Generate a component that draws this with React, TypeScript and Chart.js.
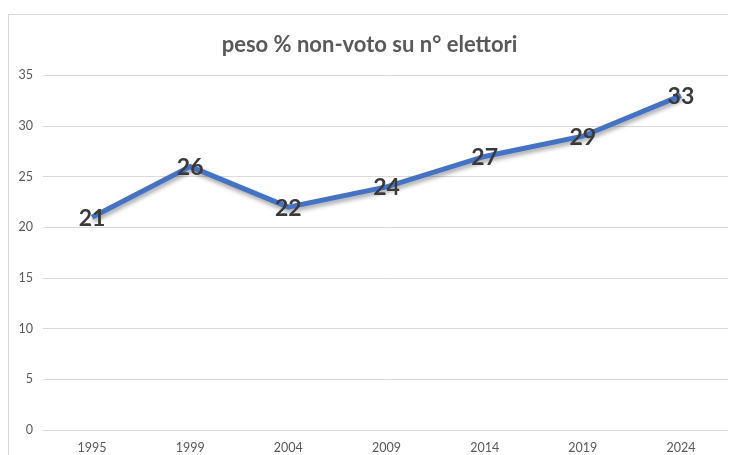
import React, { useEffect, useRef } from "react";
import { Chart, registerables } from "chart.js";

Chart.register(...registerables);

const categories = ["1995", "1999", "2004", "2009", "2014", "2019", "2024"];
const values = [21, 26, 22, 24, 27, 29, 33];
const titleText = "peso % non-voto su n° elettori";

const shadowPlugin = {
  id: "lineShadow",
  beforeDatasetDraw(chart: any) {
    const ctx = chart.ctx;
    ctx.save();
    ctx.shadowColor = "rgba(0,0,0,0.35)";
    ctx.shadowBlur = 4;
    ctx.shadowOffsetX = 1;
    ctx.shadowOffsetY = 3;
  },
  afterDatasetDraw(chart: any) {
    chart.ctx.restore();
  },
};

const labelPlugin = {
  id: "pointLabels",
  afterDatasetsDraw(chart: any) {
    const ctx = chart.ctx;
    const meta = chart.getDatasetMeta(0);
    ctx.save();
    ctx.font = "bold 23px Lato, 'Open Sans', sans-serif";
    ctx.fillStyle = "#3a3a3a";
    ctx.textAlign = "center";
    ctx.textBaseline = "middle";
    meta.data.forEach((pt: any, i: number) => {
      ctx.fillText(String(values[i]), pt.x, pt.y + 1);
    });
    ctx.restore();
  },
};

export default function App() {
  const ref = useRef<HTMLCanvasElement | null>(null);
  useEffect(() => {
    if (!ref.current) return;
    const chart = new Chart(ref.current, {
      type: "line",
      data: {
        labels: categories,
        datasets: [
          {
            data: values,
            borderColor: "#4472C4",
            borderWidth: 5,
            pointRadius: 0,
            tension: 0,
            fill: false,
          },
        ],
      },
      options: {
        animation: false,
        responsive: false,
        layout: { padding: { left: 0, right: 6, top: 0, bottom: 0 } },
        plugins: {
          legend: { display: false },
          tooltip: { enabled: false },
          title: {
            display: true,
            text: titleText,
            color: "#595959",
            font: { family: "Lato, 'Open Sans', sans-serif", size: 22, weight: "bold" },
            padding: { top: 17, bottom: 17 },
          },
        },
        scales: {
          x: {
            type: "category",
            offset: true,
            grid: { display: false, drawTicks: false },
            border: { display: true, color: "#d9d9d9" },
            ticks: {
              color: "#595959",
              font: { family: "Lato, 'Open Sans', sans-serif", size: 12.5 },
              padding: 10,
              maxRotation: 0,
            },
            afterFit(s: any) {
              s.height = 25;
            },
          },
          y: {
            min: 0,
            max: 35,
            ticks: {
              stepSize: 5,
              color: "#595959",
              font: { family: "Lato, 'Open Sans', sans-serif", size: 12.5 },
              padding: 10,
            },
            grid: { color: "#d9d9d9", drawTicks: false, lineWidth: 1 },
            border: { display: false },
            afterFit(s: any) {
              s.width = 34;
            },
          },
        },
      },
      plugins: [shadowPlugin, labelPlugin],
    });
    return () => chart.destroy();
  }, []);

  return (
    <div
      style={{
        marginTop: 6,
        width: 728,
        height: 441,
        borderTop: "1px solid #d9d9d9",
        borderLeft: "1px solid #d9d9d9",
        boxSizing: "border-box",
        overflow: "hidden",
        background: "#fff",
      }}
    >
      <canvas ref={ref} width={727} height={440} style={{ display: "block" }} />
    </div>
  );
}
